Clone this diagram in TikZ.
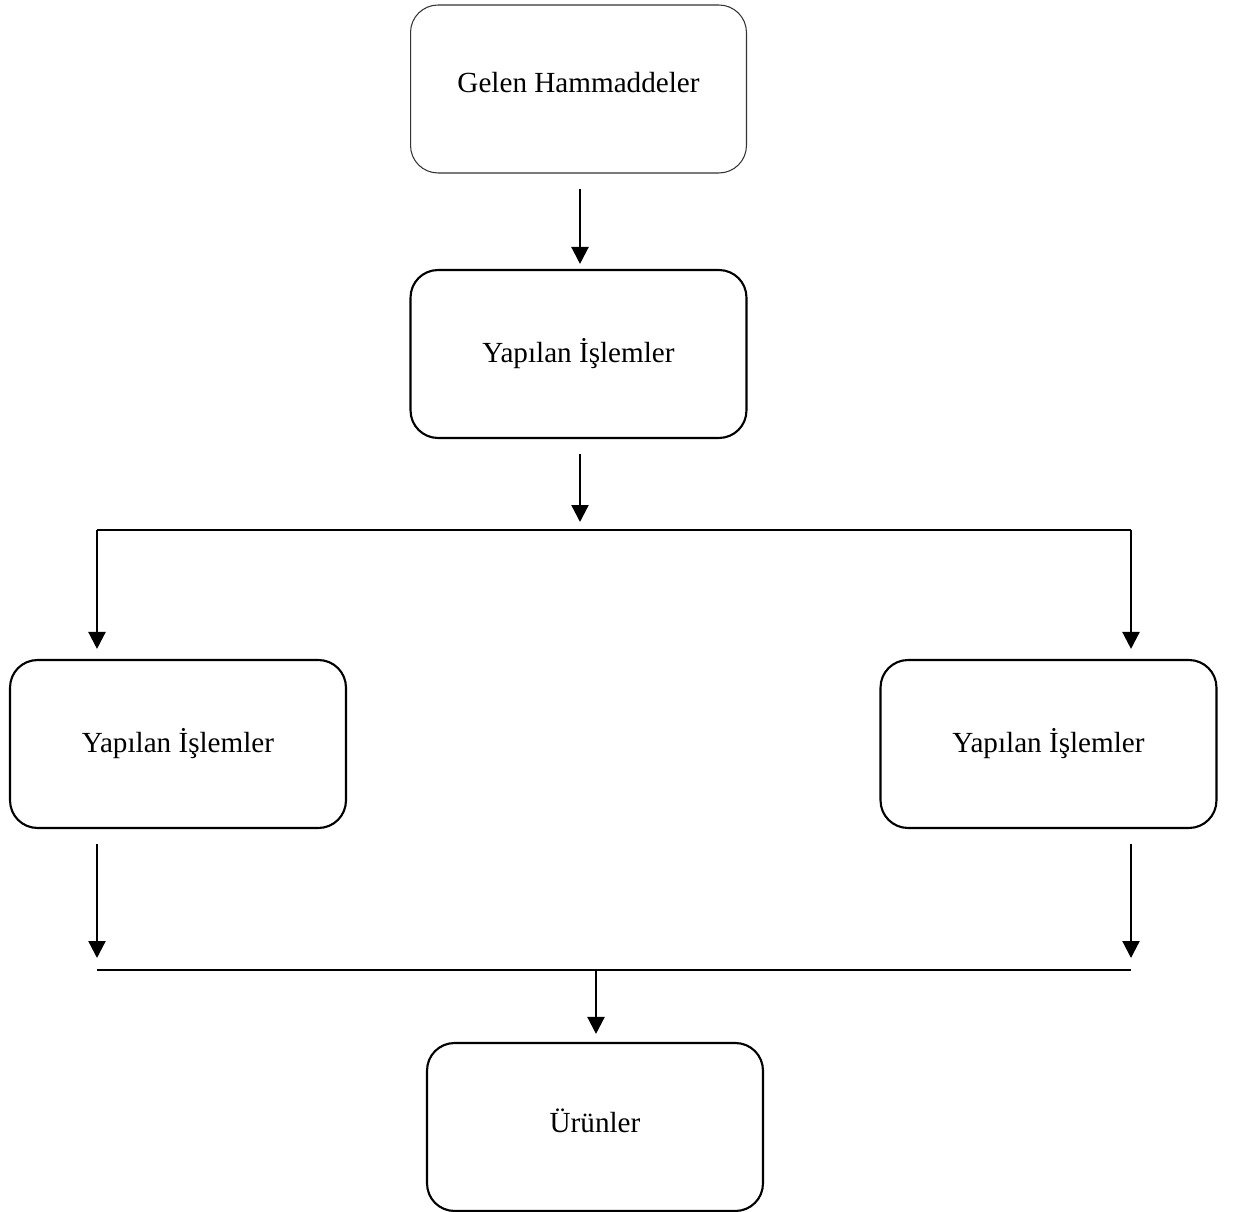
\documentclass[tikz,border=0pt]{standalone}
\usepackage{fontspec}
\setmainfont{Liberation Serif}
\usetikzlibrary{arrows.meta}

\begin{document}
\begin{tikzpicture}[x=0.02cm, y=-0.02cm,
  box/.style={rectangle, rounded corners=0.55cm, minimum width=6.72cm, minimum height=3.36cm, text centered, draw=black, line width=1.2pt, font=\fontsize{16.6}{20}\selectfont},
  arr/.style={-{Triangle[length=0.34cm, width=0.34cm]}, line width=1.3pt}]

\useasboundingbox (0,0) rectangle (1234,1212);

\node (gelen) [box, line width=0.6pt, draw=black!80] at (578.5,89) {\raisebox{0.26cm}{Gelen Hammaddeler}};
\node (islem) [box] at (578.5,354) {\raisebox{0.12cm}{Yapılan İşlemler}};
\node (sol) [box] at (178,744) {\raisebox{0.12cm}{Yapılan İşlemler}};
\node (sag) [box] at (1048.5,744) {\raisebox{0.12cm}{Yapılan İşlemler}};
\node (urun) [box] at (595,1127) {\raisebox{0.24cm}{Ürünler}};

\coordinate (ayir) at (580,530);
\coordinate (ayirsol) at (97,530);
\coordinate (ayirsag) at (1131,530);
\coordinate (topsol) at (97,970);
\coordinate (topsag) at (1131,970);
\coordinate (topla) at (596,970);

\draw[arr, shorten <=0.3cm, shorten >=0.1cm] (gelen.south -| ayir) -- (islem.north -| ayir);
\draw[arr, shorten <=0.3cm, shorten >=0.16cm] (islem.south -| ayir) -- (ayir);
\draw[line width=1.3pt] (ayirsol) -- (ayirsag);
\draw[arr, shorten >=0.2cm] (ayirsol) -- (sol.north -| ayirsol);
\draw[arr, shorten >=0.2cm] (ayirsag) -- (sag.north -| ayirsag);
\draw[arr, shorten <=0.3cm, shorten >=0.24cm] (sol.south -| topsol) -- (topsol);
\draw[arr, shorten <=0.3cm, shorten >=0.24cm] (sag.south -| topsag) -- (topsag);
\draw[line width=1.3pt] (topsol) -- (topsag);
\draw[arr, shorten >=0.16cm] (topla) -- (urun.north -| topla);

\end{tikzpicture}
\end{document}
